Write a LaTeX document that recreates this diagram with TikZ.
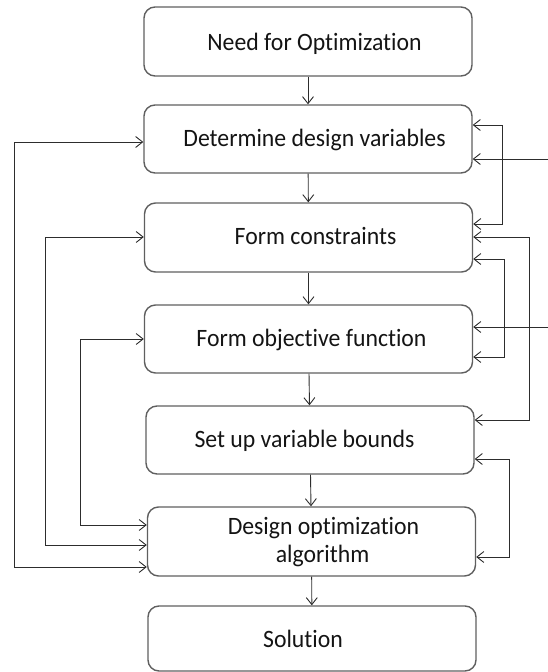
\documentclass[tikz,border=0pt]{standalone}
\usepackage{fontspec}
\setmainfont{Carlito}[Ligatures=NoCommon, FakeStretch=0.95]
\usetikzlibrary{arrows.meta}
\definecolor{boxgray}{RGB}{95,95,95}
\definecolor{linegray}{RGB}{45,45,45}
\begin{document}
\begin{tikzpicture}[x=1pt,y=-1pt,
  box/.style={draw=boxgray, line width=1.4pt, rounded corners=11pt,
    minimum width=328pt, minimum height=68pt, inner sep=0pt},
  txt/.style={anchor=base, inner sep=0pt,
    font=\fontsize{25}{29}\selectfont, text=black!92},
  link/.style={draw=linegray, line width=0.9pt},
  tip/.style={-{Straight Barb[length=7pt,width=11pt]}},
  twoway/.style={{Straight Barb[length=7pt,width=11pt]}-{Straight Barb[length=7pt,width=11pt]}}]
\useasboundingbox (0,0) rectangle (548,672);

% process boxes
\node[box, minimum height=69pt] (b1) at (308,41.5) {};
\node[box] (b2) at (308,139) {};
\node[box, minimum height=69pt] (b3) at (308.5,237.5) {};
\node[box] (b4) at (308.5,339) {};
\node[box] (b5) at (310,440) {};
\node[box, minimum height=69pt] (b6) at (311.5,541.5) {};
\node[box, minimum height=65pt] (b7) at (312,638.5) {};

% box texts
\node[txt] (t1) at (314.5,50) {Need for Optimization};
\node[txt] (t2) at (314.5,146.5) {Determine design variables};
\node[txt] (t3) at (315.5,244.5) {Form constraints};
\node[txt] (t4) at (311.5,346.5) {Form objective function};
\node[txt] (t5) at (304.5,447.5) {Set up variable bounds};
\node[txt] (t6a) at (323.5,534.5) {Design optimization};
\node[txt] (t6b) at (322.5,562.5) {algorithm};
\node[txt] (t7) at (303,647.5) {Solution};

% main flow
\draw[link,tip] (b1) -- (b2);
\draw[link,tip] (b2) -- (b3);
\draw[link,tip] (b3) -- (b4);
\draw[link,tip] (b4) -- (b5);
\draw[link,tip] (b5) -- (b6);
\draw[link,tip] (b6) -- (b7);

% feedback loops on the left
\draw[link,twoway] (b2.west |- 0,142) -- (14,142) -- (14,567) -- (b6.west |- 0,567);
\draw[link,twoway] (b3.west |- 0,237) -- (45,237) -- (45,545) -- (b6.west |- 0,545);
\draw[link,twoway] (b4.west |- 0,339) -- (80,339) -- (80,525) -- (b6.west |- 0,525);

% feedback loops on the right
\draw[link,twoway] (b2.east |- 0,125) -- (502,125) -- (502,224) -- (b3.east |- 0,224);
\draw[link,twoway] (b3.east |- 0,237) -- (529,237) -- (529,420) -- (b5.east |- 0,420);
\draw[link,twoway] (b3.east |- 0,259) -- (504,259) -- (504,357) -- (b4.east |- 0,357);
\draw[link,twoway] (b5.east |- 0,459) -- (509,459) -- (509,557) -- (b6.east |- 0,557);

% external inputs
\coordinate (in1) at (548,159);
\coordinate (in2) at (548,327);
\draw[link,tip] (in1) -- (b2.east |- in1);
\draw[link,tip] (in2) -- (b4.east |- in2);
\end{tikzpicture}
\end{document}
